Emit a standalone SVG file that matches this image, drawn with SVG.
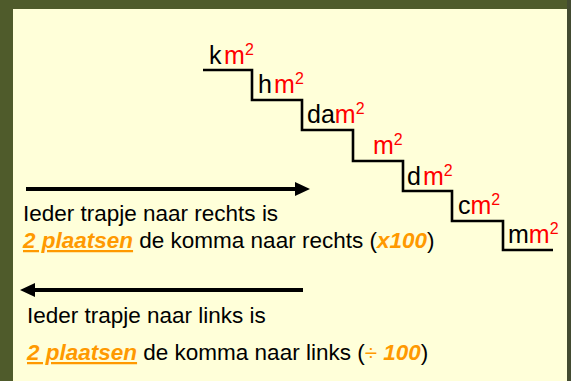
<svg xmlns="http://www.w3.org/2000/svg" width="571" height="381" viewBox="0 0 571 381">
<style>
text{font-family:"Liberation Sans",Arial,sans-serif;}
.u{font-size:25px;fill:#000;}
.r{fill:#ff0000;}
.s{font-size:16px;fill:#ff0000;}
.t{font-size:22.5px;fill:#000;}
.o{fill:#ff9900;font-weight:bold;font-style:italic;}
.step{fill:none;stroke:#000;stroke-width:2.6;}
.arr{stroke:#000;stroke-width:4;}
</style>
<rect x="0" y="0" width="571" height="381" fill="#4f5b2b"/>
<rect x="567" y="0" width="4" height="381" fill="#434b31"/>
<rect x="13" y="9" width="554" height="372" fill="#ffffd9"/>
<g id="connectors">
<path class="step" d="M203 70H252V100H302V130H353V161H403V191H452V221H503V250H553"/>
<g id="arrow-right"><line class="arr" x1="26" y1="189" x2="298" y2="189"/><polygon points="295,182 310,189 295,196" fill="#000"/></g>
<g id="arrow-left"><line class="arr" x1="303" y1="290" x2="33" y2="290"/><polygon points="35,283 20,290 35,297" fill="#000"/></g>
</g>
<g id="km2"><text class="u" x="209" y="64">k<tspan class="r" x="224">m</tspan><tspan class="s" x="245" y="55">2</tspan></text></g>
<g id="hm2"><text class="u" x="258" y="93">h<tspan class="r" x="274">m</tspan><tspan class="s" x="295" y="84">2</tspan></text></g>
<g id="dam2"><text class="u" x="307" y="123">da<tspan class="r">m</tspan><tspan class="s" dy="-9">2</tspan></text></g>
<g id="m2"><text class="u r" x="373" y="154">m<tspan class="s" dy="-9">2</tspan></text></g>
<g id="dm2"><text class="u" x="407" y="185">d<tspan class="r" x="423">m</tspan><tspan class="s" dy="-9">2</tspan></text></g>
<g id="cm2"><text class="u" x="458" y="214">c<tspan class="r">m</tspan><tspan class="s" dy="-9">2</tspan></text></g>
<g id="mm2"><text class="u" x="508" y="243">m<tspan class="r">m</tspan><tspan class="s" dy="-9">2</tspan></text></g>
<g id="text-right">
<text class="t" x="23" y="221">Ieder trapje naar rechts is</text>
<text class="t" x="23" y="248"><tspan class="o" text-decoration="underline">2 plaatsen</tspan> de komma naar rechts (<tspan class="o">x100</tspan>)</text>
</g>
<g id="text-left">
<text class="t" x="27" y="323">Ieder trapje naar links is</text>
<text class="t" x="27" y="360"><tspan class="o" text-decoration="underline">2 plaatsen</tspan> de komma naar links (<tspan class="o" style="font-weight:normal;font-style:normal">÷</tspan><tspan class="o"> 100</tspan>)</text>
</g>
</svg>
